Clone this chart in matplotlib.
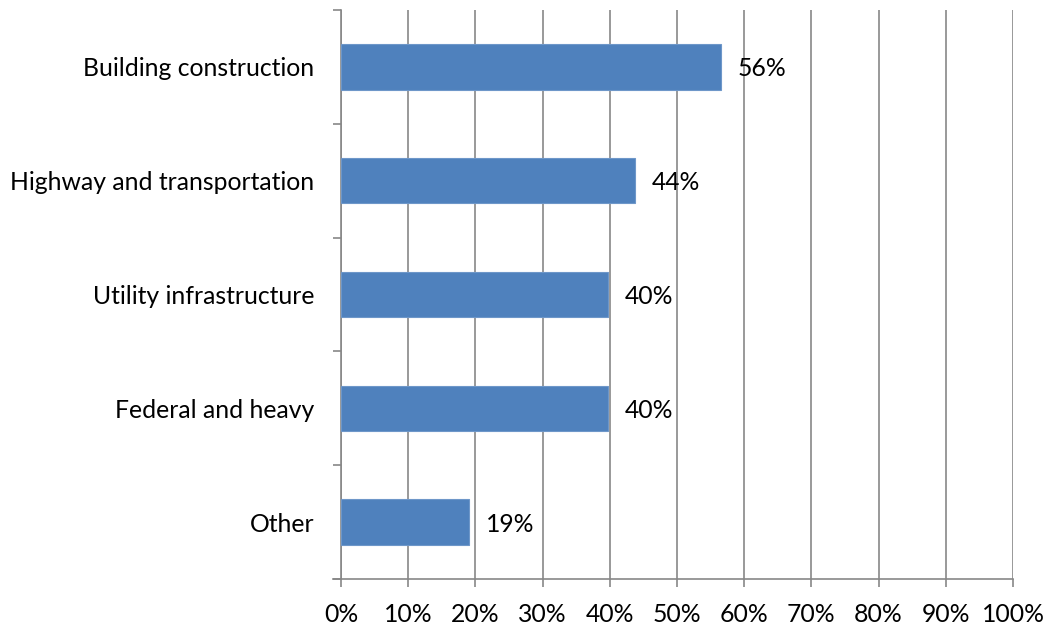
import matplotlib
matplotlib.use("Agg")
import matplotlib.pyplot as plt
import numpy as np
from matplotlib.ticker import FixedLocator, PercentFormatter

categories = ["Building construction", "Highway and transportation",
              "Utility infrastructure", "Federal and heavy", "Other"]
values = [56.5, 43.7, 39.7, 39.7, 19.1]
labels = ["56%", "44%", "40%", "40%", "19%"]
xticks = [0, 10, 20, 30, 40, 50, 60, 70, 80, 90, 100]

plt.rcParams['font.family'] = ['Lato', 'DejaVu Sans']
W, H = 1063, 628
fig = plt.figure(figsize=(W/100, H/100), dpi=100)
ax = fig.add_axes([341/W, 1-579/H, (1013-341)/W, (579-10)/H])

FS = 17.8
gray = "#878787"
y = np.arange(len(categories))
ax.barh(y, values, height=0.4, color="#4F81BD", edgecolor="#6E97C9", linewidth=0.8, zorder=3)
ax.set_ylim(len(categories)-0.5, -0.5)
ax.set_xlim(0, 100)

for yi, v, lab in zip(y, values, labels):
    ax.annotate(lab, (v, yi), xytext=(12, -1.5), textcoords="offset points",
                va="center", ha="left", fontsize=FS, color="black", zorder=4)

ax.set_xticks(xticks)
ax.xaxis.set_major_formatter(PercentFormatter(decimals=0))
ax.set_yticks(y)
ax.set_yticklabels(categories)
ax.yaxis.set_minor_locator(FixedLocator(np.arange(-0.5, len(categories), 1.0)))
ax.tick_params(axis='y', which='major', length=0, pad=19, labelsize=FS)
ax.tick_params(axis='y', which='minor', length=6, width=1.2, color=gray)
ax.tick_params(axis='x', length=6, width=1.2, color=gray, pad=11, labelsize=FS)

ax.grid(axis='x', color=gray, linewidth=1.2, zorder=0)
for s in ['top', 'right']:
    ax.spines[s].set_visible(False)
for s in ['left', 'bottom']:
    ax.spines[s].set_color(gray)
    ax.spines[s].set_linewidth(1.2)
ax.spines['bottom'].set_bounds(-1.2, 100)

fig.savefig("out.png", dpi=100)
